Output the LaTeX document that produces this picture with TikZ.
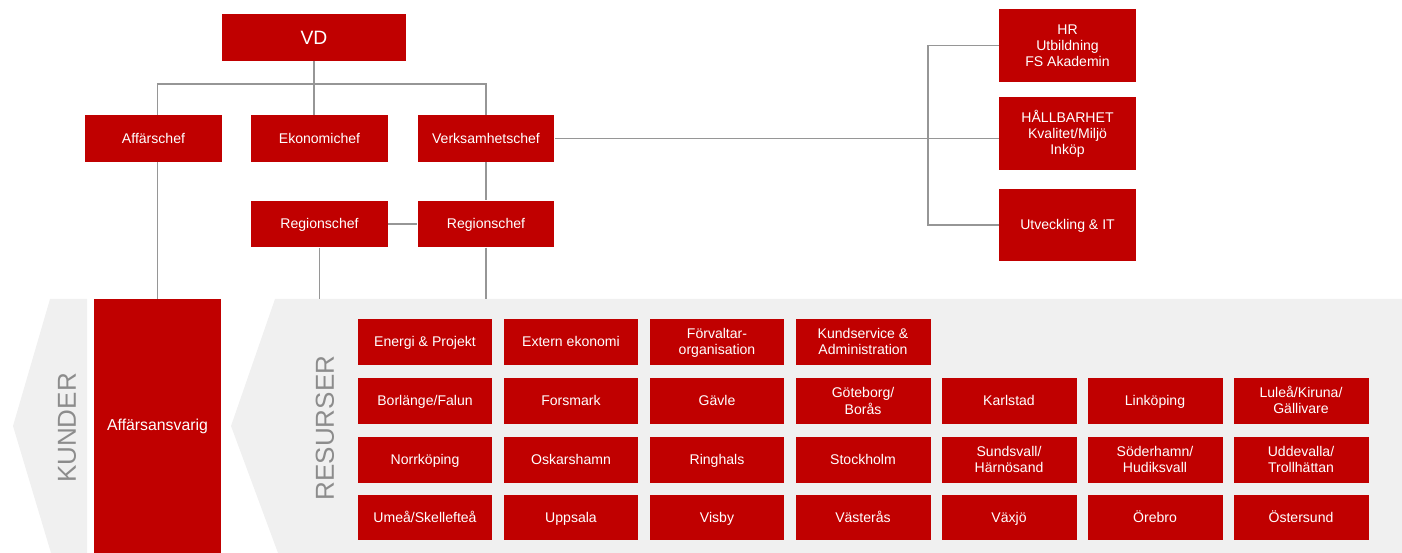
\documentclass[tikz,border=0pt]{standalone}
\usepackage{fontspec}
\setmainfont{Liberation Sans}
\usetikzlibrary{calc,positioning}
\definecolor{fsred}{RGB}{192,0,0}
\definecolor{panelgray}{RGB}{240,240,240}
\definecolor{linegray}{RGB}{150,150,150}
\definecolor{labelgray}{RGB}{140,140,140}
\newcommand{\boxstrut}{\rule[-0.41em]{0pt}{1.53em}}
\newcommand{\stacked}[1]{\begin{tabular}{@{}c@{}}\rule{0pt}{1.12em}#1\rule[-0.41em]{0pt}{0.41em}\end{tabular}}
\tikzset{%
    org_box/.style={%
        rectangle, minimum width=2.74cm, minimum height=0.93cm, inner sep=0pt, fill=fsred, text=white, font=\fontsize{8}{9.1}\selectfont,
        execute at begin node=\boxstrut, execute at end node=\boxstrut
    },
    org_top/.style={%
        org_box, minimum width=3.68cm, minimum height=0.94cm, font=\fontsize{11}{12}\selectfont
    },
    support_box/.style={%
        org_box, minimum height=1.46cm
    },
    res_block/.style={%
        org_box, minimum width=2.7cm, minimum height=0.92cm
    },
    owner_block/.style={%
        rectangle, minimum width=2.54cm, minimum height=5.08cm, inner sep=0pt, fill=fsred, text=white, font=\fontsize{9}{10}\selectfont
    },
    panel/.style={%
        fill=panelgray
    },
    side_label/.style={%
        rotate=90, text=labelgray, font=\fontsize{14.8}{16}\selectfont
    },
    conn/.style={%
        draw=linegray, line width=0.8pt
    },
}
\begin{document}
\begin{tikzpicture}[x=0.02cm, y=-0.02cm]
    \useasboundingbox (0,0) rectangle (1402,553);

    % chevron panels
    \fill[panel] (50,299) -- (87,299) -- (87,553) -- (51,553) -- (13,426) -- cycle;
    \fill[panel] (275,299) -- (1402,299) -- (1402,553) -- (278,553) -- (231,426) -- cycle;
    \coordinate (paneltop) at (0,299);
    \node[side_label] (kunder) at (67,428) {KUNDER};
    \node[side_label] (resurser) at (325,428) {RESURSER};

    % management
    \node[org_top] (vd) at (314,37.5) {VD};
    \node[org_box] (affarschef) at (153.5,138.5) {Affärschef};
    \node[org_box] (ekonomichef) at (319.5,138.5) {Ekonomichef};
    \node[org_box] (verksamhetschef) at (486,138.5) {Verksamhetschef};
    \node[org_box] (region_a) at (319.5,224) {Regionschef};
    \node[org_box] (region_b) at (486,224) {Regionschef};
    \node[owner_block] (ansvarig) at (157.5,426) {Affärsansvarig};

    % support functions
    \node[support_box] (hr) at (1067.5,45.5) {\stacked{HR\\Utbildning\\FS Akademin}};
    \node[support_box] (hallbarhet) at (1067.5,133.5) {\stacked{HÅLLBARHET\\Kvalitet/Miljö\\Inköp}};
    \node[support_box] (utveckling) at (1067.5,225) {Utveckling \& IT};

    % connectors
    \coordinate (bus) at (314,84);
    \coordinate (sidebus) at (928,138.5);
    \draw[conn] (vd.south) -- (vd.south |- ekonomichef.north);
    \draw[conn] (ansvarig.north |- affarschef.north) |- (bus) -| (verksamhetschef.north);
    \draw[conn] (ansvarig.north |- affarschef.south) -- (ansvarig.north);
    \draw[conn] (verksamhetschef.south) -- (region_b.north);
    \draw[conn] (region_a.east) -- (region_b.west);
    \draw[conn] (region_a.south) -- (region_a.south |- paneltop);
    \draw[conn] (region_b.south) -- (region_b.south |- paneltop);
    \draw[conn] (verksamhetschef.east) -- (sidebus) -- (sidebus -| hallbarhet.west);
    \draw[conn] (hr.west) -| (sidebus) |- (utveckling.west);

    % resources
    \node[res_block] (energi) at (425,342) {Energi \& Projekt};
    \node[res_block] (extern) at (571,342) {Extern ekonomi};
    \node[res_block] (forvaltar) at (717,342) {\stacked{Förvaltar-\\organisation}};
    \node[res_block] (kundservice) at (863,342) {\stacked{Kundservice \&\\Administration}};

    \node[res_block] (borlange) at (425,401) {Borlänge/Falun};
    \node[res_block] (forsmark) at (571,401) {Forsmark};
    \node[res_block] (gavle) at (717,401) {Gävle};
    \node[res_block] (goteborg) at (863,401) {\stacked{Göteborg/\\Borås}};
    \node[res_block] (karlstad) at (1009,401) {Karlstad};
    \node[res_block] (linkoping) at (1155,401) {Linköping};
    \node[res_block] (lulea) at (1301,401) {\stacked{Luleå/Kiruna/\\Gällivare}};

    \node[res_block] (norrkoping) at (425,460) {Norrköping};
    \node[res_block] (oskarshamn) at (571,460) {Oskarshamn};
    \node[res_block] (ringhals) at (717,460) {Ringhals};
    \node[res_block] (stockholm) at (863,460) {Stockholm};
    \node[res_block] (sundsvall) at (1009,460) {\stacked{Sundsvall/\\Härnösand}};
    \node[res_block] (soderhamn) at (1155,460) {\stacked{Söderhamn/\\Hudiksvall}};
    \node[res_block] (uddevalla) at (1301,460) {\stacked{Uddevalla/\\Trollhättan}};

    \node[res_block] (umea) at (425,517.5) {Umeå/Skellefteå};
    \node[res_block] (uppsala) at (571,517.5) {Uppsala};
    \node[res_block] (visby) at (717,517.5) {Visby};
    \node[res_block] (vasteras) at (863,517.5) {Västerås};
    \node[res_block] (vaxjo) at (1009,517.5) {Växjö};
    \node[res_block] (orebro) at (1155,517.5) {Örebro};
    \node[res_block] (ostersund) at (1301,517.5) {Östersund};
\end{tikzpicture}
\end{document}
